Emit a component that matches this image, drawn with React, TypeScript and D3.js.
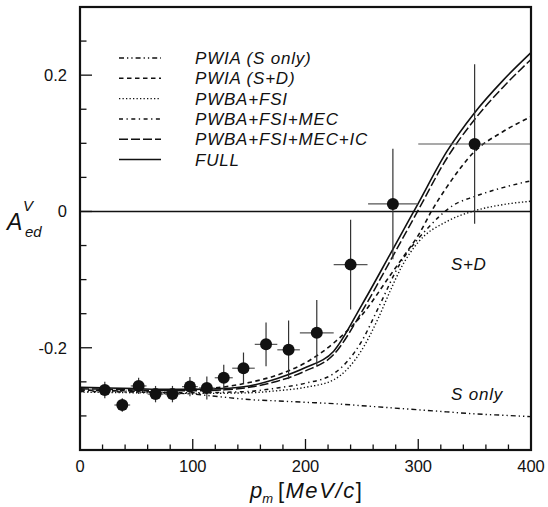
import React from "react";
import * as d3 from "d3";

const W = 548;
const H = 507;

// experimental points
const pmData = [22, 37.5, 52, 67, 82, 97.5, 112.5, 127.5, 145, 165, 185, 210, 240, 277.5, 350];
const aData = [-0.262, -0.284, -0.256, -0.268, -0.268, -0.257, -0.259, -0.244, -0.23, -0.195, -0.203, -0.178, -0.078, 0.011, 0.099];
const pmErr = [4.5, 7, 7, 7, 7, 7, 7, 8, 10, 10, 10, 15, 15, 22, 50];
const aErr = [0.012, 0.01, 0.012, 0.012, 0.012, 0.014, 0.017, 0.019, 0.023, 0.032, 0.043, 0.048, 0.066, 0.081, 0.117];

// theory curves
const pmSOnly = [0, 25, 50, 75, 100, 125, 150, 175, 200, 225, 250, 275, 300, 325, 350, 375, 400];
const aSOnly = [-0.262, -0.263, -0.264, -0.266, -0.268, -0.272, -0.276, -0.278, -0.28, -0.282, -0.285, -0.288, -0.291, -0.294, -0.297, -0.299, -0.301];

const pmSD = [0, 50, 100, 125, 150, 175, 200, 225, 250, 275, 287, 300, 313, 325, 350, 375, 400];
const aSD = [-0.262, -0.263, -0.261, -0.258, -0.251, -0.24, -0.222, -0.193, -0.152, -0.094, -0.066, -0.035, 0.004, 0.035, 0.088, 0.117, 0.139];

const pmFSI = [0, 50, 100, 150, 175, 200, 225, 250, 265, 275, 285, 300, 325, 350, 375, 400];
const aFSI = [-0.265, -0.266, -0.267, -0.266, -0.263, -0.258, -0.247, -0.203, -0.155, -0.117, -0.082, -0.045, -0.015, 0.001, 0.01, 0.015];

const pmMEC = [0, 50, 100, 150, 175, 200, 225, 250, 265, 284, 300, 307, 331, 350, 375, 400];
const aMEC = [-0.264, -0.265, -0.266, -0.264, -0.259, -0.252, -0.238, -0.19, -0.14, -0.076, -0.04, -0.027, 0.009, 0.022, 0.035, 0.045];

const pmIC = [0, 25, 50, 75, 100, 125, 150, 175, 200, 225, 250, 275, 300, 325, 350, 375, 400];
const aIC = [-0.26, -0.261, -0.262, -0.263, -0.263, -0.262, -0.258, -0.249, -0.234, -0.21, -0.147, -0.073, 0.002, 0.077, 0.135, 0.182, 0.223];

const pmFull = [0, 25, 50, 75, 100, 125, 150, 175, 200, 225, 250, 275, 300, 325, 350, 375, 400];
const aFull = [-0.258, -0.259, -0.26, -0.261, -0.261, -0.26, -0.256, -0.245, -0.229, -0.205, -0.137, -0.063, 0.012, 0.087, 0.145, 0.192, 0.233];

const legendLabels = ["PWIA (S only)", "PWIA (S+D)", "PWBA+FSI", "PWBA+FSI+MEC", "PWBA+FSI+MEC+IC", "FULL"];
const xTickValues = [0, 100, 200, 300, 400];
const yTickValues = [-0.2, 0, 0.2];

const FONT = "'Liberation Sans', Arial, Helvetica, sans-serif";

export default function App() {
  const left = 80, right = 531, top = 7, bottom = 450;
  const x = d3.scaleLinear().domain([0, 400]).range([left, right]);
  const y = d3.scaleLinear().domain([-0.35, 0.3]).range([bottom, top]);

  const line = d3
    .line<[number, number]>()
    .x((d) => x(d[0]))
    .y((d) => y(d[1]))
    .curve(d3.curveMonotoneX);

  const curves = [
    { xs: pmSOnly, ys: aSOnly, dash: "5,3,1.3,3,1.3,3", w: 1.4 },
    { xs: pmSD, ys: aSD, dash: "4.5,3.5", w: 1.6 },
    { xs: pmFSI, ys: aFSI, dash: "1.3,2.2", w: 1.4 },
    { xs: pmMEC, ys: aMEC, dash: "4,3.5,1.3,3.5", w: 1.5 },
    { xs: pmIC, ys: aIC, dash: "9,3", w: 1.5 },
    { xs: pmFull, ys: aFull, dash: "", w: 1.6 },
  ];

  const xMinor = d3.range(0, 401, 20);
  const yMinor = d3.range(-0.35, 0.3001, 0.05).map((v) => Math.round(v * 100) / 100);

  const clipId = "plotclip";

  return (
    <svg
      width={W}
      height={H}
      style={{ position: "absolute", left: 0, top: 0, background: "#fff" }}
      fontFamily={FONT}
    >
      <defs>
        <clipPath id={clipId}>
          <rect x={left} y={top} width={right - left} height={bottom - top} />
        </clipPath>
      </defs>
      <rect x={0} y={0} width={W} height={H} fill="#fff" />

      {/* zero line */}
      <line x1={left} x2={right} y1={y(0)} y2={y(0)} stroke="#111" strokeWidth={1.6} />

      {/* curves */}
      <g clipPath={`url(#${clipId})`} fill="none" stroke="#111">
        {curves.map((c, i) => (
          <path
            key={i}
            d={line(c.xs.map((v, j) => [v, c.ys[j]] as [number, number])) || ""}
            strokeDasharray={c.dash || undefined}
            strokeWidth={c.w}
          />
        ))}
      </g>

      {/* data error bars */}
      <g clipPath={`url(#${clipId})`} stroke="#333" strokeWidth={1.2}>
        {pmData.map((p, i) => (
          <g key={i}>
            <line x1={x(p - pmErr[i])} x2={x(p + pmErr[i])} y1={y(aData[i])} y2={y(aData[i])} stroke="#555" />
            <line x1={x(p)} x2={x(p)} y1={y(aData[i] - aErr[i])} y2={y(aData[i] + aErr[i])} />
          </g>
        ))}
      </g>
      <g fill="#111">
        {pmData.map((p, i) => (
          <circle key={i} cx={x(p)} cy={y(aData[i])} r={6} />
        ))}
      </g>

      {/* ticks */}
      <g stroke="#111" strokeWidth={1.3}>
        {xMinor.map((v) => (
          <line key={"xt" + v} x1={x(v)} x2={x(v)} y1={bottom} y2={bottom - (v % 100 === 0 ? 11 : 5.5)} />
        ))}
        {yMinor.map((v) => {
          const major = Math.abs(Math.round(v * 100) % 20) === 0;
          return <line key={"yt" + v} x1={left} x2={left + (major ? 12 : 6.5)} y1={y(v)} y2={y(v)} />;
        })}
      </g>

      {/* frame */}
      <rect x={left} y={top} width={right - left} height={bottom - top} fill="none" stroke="#111" strokeWidth={2.2} />

      {/* tick labels */}
      <g fontSize={16.5} fill="#111">
        {xTickValues.map((v) => (
          <text key={"xl" + v} x={x(v)} y={472} textAnchor="middle">
            {v}
          </text>
        ))}
        {yTickValues.map((v) => (
          <text key={"yl" + v} x={67} y={y(v) + 6} textAnchor="end">
            {`${v}`}
          </text>
        ))}
      </g>

      {/* axis titles */}
      <text x={250} y={498} fontSize={22} fill="#111">
        <tspan fontStyle="italic">p</tspan>
        <tspan fontStyle="italic" fontSize={13} dy={5}>m</tspan>
        <tspan dy={-5} dx={5} letterSpacing={1.2}>[</tspan>
        <tspan fontStyle="italic" letterSpacing={1.6}>MeV/c</tspan>
        <tspan>]</tspan>
      </text>
      <text x={7} y={230} fontSize={23} fill="#111" fontStyle="italic">A</text>
      <text x={23} y={211} fontSize={15} fill="#111" fontStyle="italic">V</text>
      <text x={25} y={237} fontSize={15} fill="#111" fontStyle="italic">ed</text>

      {/* legend */}
      <g>
        {legendLabels.map((lab, i) => {
          const yy = 58 + i * 20.3;
          const c = curves[i];
          return (
            <g key={lab}>
              <line x1={119} x2={161} y1={yy} y2={yy} stroke="#111" strokeWidth={c.w} strokeDasharray={c.dash || undefined} />
              <text x={195} y={yy + 6} fontSize={17} letterSpacing={0.8} fontStyle="italic" fill="#111">
                {lab}
              </text>
            </g>
          );
        })}
      </g>

      {/* annotations */}
      <text x={451} y={270} fontSize={17} letterSpacing={0.6} fontStyle="italic" fill="#111">S+D</text>
      <text x={451} y={400} fontSize={17} letterSpacing={0.8} fontStyle="italic" fill="#111">S only</text>
    </svg>
  );
}
